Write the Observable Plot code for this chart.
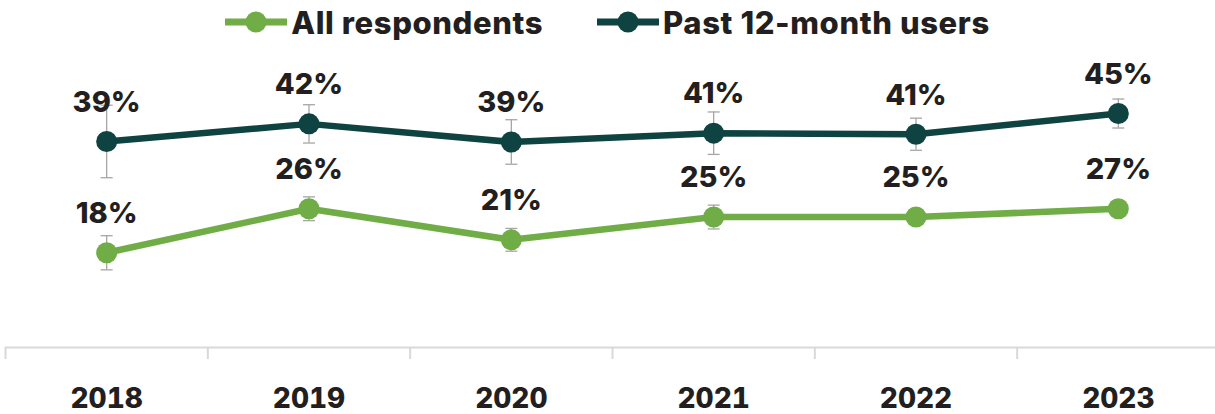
<!DOCTYPE html>
<html><head><meta charset="utf-8">
<script src="https://cdn.jsdelivr.net/npm/d3@7"></script>
<script src="https://cdn.jsdelivr.net/npm/@observablehq/plot@0.6"></script>
<style>
body{margin:0;background:#fff;font-family:Inter,"Open Sans",sans-serif;color:#231f20;overflow:hidden;}
#legend{height:44px;display:flex;justify-content:center;align-items:center;gap:54px;font-weight:800;font-size:31px;letter-spacing:0.6px;}
.item{display:flex;align-items:center;gap:4px;}
</style></head><body>
<div id="legend"></div><div id="chart"></div>
<script>
const years = [2018, 2019, 2020, 2021, 2022, 2023];
const seriesNames = ["All respondents", "Past 12-month users"];
const colors = ["#70ad47", "#0e4341"];
const allValues = [18.3, 26.8, 20.8, 25.2, 25.2, 26.8];
const allLabels = ["18%", "26%", "21%", "25%", "25%", "27%"];
const allErrors = [3.3, 2.3, 2.2, 2.3, 1.5, 1.5];
const pastValues = [39.8, 43.2, 39.7, 41.4, 41.2, 45.2];
const pastLabels = ["39%", "42%", "39%", "41%", "41%", "45%"];
const pastErrors = [7.0, 3.7, 4.3, 4.1, 3.1, 2.8];
const boundaries = [2017.5, 2018.5, 2019.5, 2020.5, 2021.5, 2022.5];

const rows = [
  ...years.map((y, i) => ({year: y, value: allValues[i], label: allLabels[i], err: allErrors[i], series: seriesNames[0]})),
  ...years.map((y, i) => ({year: y, value: pastValues[i], label: pastLabels[i], err: pastErrors[i], series: seriesNames[1]}))
];

// legend
const leg = document.getElementById("legend");
seriesNames.forEach((name, i) => {
  const item = document.createElement("div");
  item.className = "item";
  item.innerHTML = `<svg width="62" height="24"><line x1="1" x2="61" y1="12" y2="12" stroke="${colors[i]}" stroke-width="7" stroke-linecap="round"/><circle cx="31" cy="12" r="10.5" fill="${colors[i]}"/></svg><span>${name}</span>`;
  leg.appendChild(item);
});

const capSymbol = {
  draw(ctx, size) {
    const r = Math.sqrt(size / Math.PI);
    ctx.moveTo(-r, 0);
    ctx.lineTo(r, 0);
  }
};

const chart = Plot.plot({
  width: 1215,
  height: 370,
  marginLeft: 5,
  marginRight: -4,
  marginTop: 10,
  marginBottom: 67,
  style: {fontFamily: "Inter, 'Open Sans', sans-serif", color: "#231f20", background: "#fff", overflow: "hidden"},
  x: {domain: [2017.5, 2023.5], label: null},
  y: {domain: [0, 56.6], axis: null},
  color: {domain: seriesNames, range: colors},
  marks: [
    Plot.ruleY([0], {stroke: "#d9d9d9", strokeWidth: 2}),
    Plot.axisX({ticks: boundaries, tickSize: 12, tickFormat: () => "", label: null, stroke: "#d9d9d9", strokeWidth: 2, strokeOpacity: 1}),
    Plot.axisX({ticks: years, tickSize: 0, tickPadding: 41, label: null, tickFormat: d => String(d), fontSize: 28, fontWeight: 800, fill: "#231f20"}),
    Plot.ruleX(rows, {x: "year", y1: d => d.value - d.err, y2: d => d.value + d.err, stroke: "#a6a6a6", strokeWidth: 1.3}),
    Plot.dot(rows, {x: "year", y: d => d.value - d.err, symbol: capSymbol, r: 6, stroke: "#a6a6a6", strokeWidth: 1.3, fill: "none"}),
    Plot.dot(rows, {x: "year", y: d => d.value + d.err, symbol: capSymbol, r: 6, stroke: "#a6a6a6", strokeWidth: 1.3, fill: "none"}),
    Plot.line(rows, {x: "year", y: "value", z: "series", stroke: "series", strokeWidth: 6.5}),
    Plot.dot(rows, {x: "year", y: "value", r: 10.5, fill: "series"}),
    Plot.text(rows, {x: "year", y: "value", text: "label", dy: -39, fontSize: 29, fontWeight: 800, fill: "#231f20"})
  ]
});
document.getElementById("chart").appendChild(chart);
</script>
</body></html>
